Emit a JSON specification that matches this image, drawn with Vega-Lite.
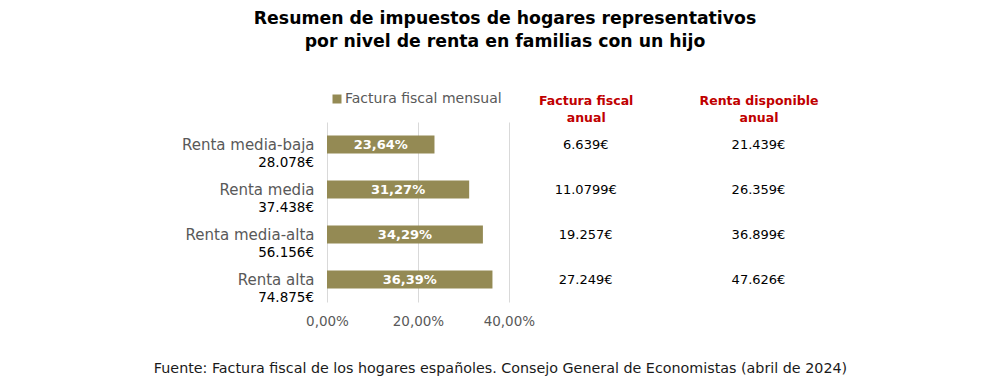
{
  "$schema": "https://vega.github.io/schema/vega-lite/v6.json",
  "width": 672,
  "height": 180,
  "autosize": {"type": "none"},
  "padding": {"left": 327, "top": 122, "right": 0, "bottom": 87},
  "background": "white",
  "config": {"font": "DejaVu Sans", "view": {"stroke": null}},
  "title": {
    "text": ["Resumen de impuestos de hogares representativos", "por nivel de renta en familias con un hijo"],
    "fontSize": 17.3,
    "fontWeight": "bold",
    "color": "#000000",
    "anchor": "middle",
    "frame": "group",
    "dx": -158,
    "offset": 42,
    "lineHeight": 23
  },
  "data": {
    "values": [
      {"grupo": "Renta media-baja", "renta": "28.078€", "pct": 23.64, "etiqueta": "23,64%", "factura": "6.639€", "disponible": "21.439€"},
      {"grupo": "Renta media", "renta": "37.438€", "pct": 31.27, "etiqueta": "31,27%", "factura": "11.0799€", "disponible": "26.359€"},
      {"grupo": "Renta media-alta", "renta": "56.156€", "pct": 34.29, "etiqueta": "34,29%", "factura": "19.257€", "disponible": "36.899€"},
      {"grupo": "Renta alta", "renta": "74.875€", "pct": 36.39, "etiqueta": "36,39%", "factura": "27.249€", "disponible": "47.626€"}
    ]
  },
  "encoding": {
    "y": {
      "field": "grupo",
      "type": "nominal",
      "sort": null,
      "scale": {"paddingInner": 0.6, "paddingOuter": 0.3},
      "axis": {
        "title": null,
        "domain": false,
        "ticks": false,
        "grid": false,
        "labelFontSize": 15,
        "labelColor": "#595959",
        "labelPadding": 13
      }
    }
  },
  "layer": [
    {
      "mark": {"type": "bar"},
      "encoding": {
        "x": {
          "field": "pct",
          "type": "quantitative",
          "scale": {"domain": [0, 147.8], "nice": false},
          "axis": {
            "values": [0, 20, 40],
            "labelExpr": "replace(format(datum.value, '.2f'), '.', ',') + '%'",
            "grid": true,
            "gridColor": "#d9d9d9",
            "domain": false,
            "ticks": false,
            "labelFlush": false,
            "labelFontSize": 13.5,
            "labelColor": "#595959",
            "labelPadding": 12,
            "title": "Fuente: Factura fiscal de los hogares españoles. Consejo General de Economistas (abril de 2024)",
            "titleX": 173,
            "titleY": 66,
            "titleAlign": "center",
            "titleAnchor": "middle",
            "titleBaseline": "middle",
            "titleFontSize": 14.3,
            "titleFontWeight": "normal",
            "titleColor": "#1a1a1a"
          }
        },
        "color": {
          "datum": "Factura fiscal mensual",
          "type": "nominal",
          "scale": {"range": ["#948A54"]},
          "legend": {
            "title": null,
            "orient": "none",
            "legendX": 3,
            "legendY": -30,
            "padding": 0,
            "symbolType": "square",
            "symbolSize": 81,
            "symbolStrokeWidth": 0,
            "labelFontSize": 14,
            "labelColor": "#595959",
            "labelOffset": 1
          }
        }
      }
    },
    {
      "transform": [{"calculate": "datum.pct / 2", "as": "mitad"}],
      "mark": {"type": "text", "color": "white", "fontWeight": "bold", "fontSize": 13, "align": "center", "baseline": "middle"},
      "encoding": {
        "x": {"field": "mitad", "type": "quantitative", "axis": null},
        "text": {"field": "etiqueta"}
      }
    },
    {
      "mark": {"type": "text", "color": "#000000", "fontSize": 13.5, "align": "right", "baseline": "middle", "dx": -13, "dy": 18},
      "encoding": {
        "x": {"datum": 0, "type": "quantitative", "axis": null},
        "text": {"field": "renta"}
      }
    },
    {
      "mark": {"type": "text", "color": "#000000", "fontSize": 13, "align": "center", "baseline": "middle", "dy": 0},
      "encoding": {
        "x": {
          "datum": 56.9,
          "type": "quantitative",
          "axis": {
            "orient": "top",
            "values": [56.9, 94.9],
            "labelExpr": "datum.value < 70 ? ['Factura fiscal', 'anual'] : ['Renta disponible', 'anual']",
            "grid": false,
            "domain": false,
            "ticks": false,
            "labelFlush": false,
            "labelOverlap": false,
            "labelBound": false,
            "labelFontSize": 12.5,
            "labelFontWeight": "bold",
            "labelColor": "#C00000",
            "labelLineHeight": 17,
            "labelPadding": 15,
            "title": null
          }
        },
        "text": {"field": "factura"}
      }
    },
    {
      "mark": {"type": "text", "color": "#000000", "fontSize": 13, "align": "center", "baseline": "middle"},
      "encoding": {
        "x": {"datum": 94.9, "type": "quantitative", "axis": null},
        "text": {"field": "disponible"}
      }
    }
  ],
  "resolve": {"axis": {"x": "independent"}}
}
